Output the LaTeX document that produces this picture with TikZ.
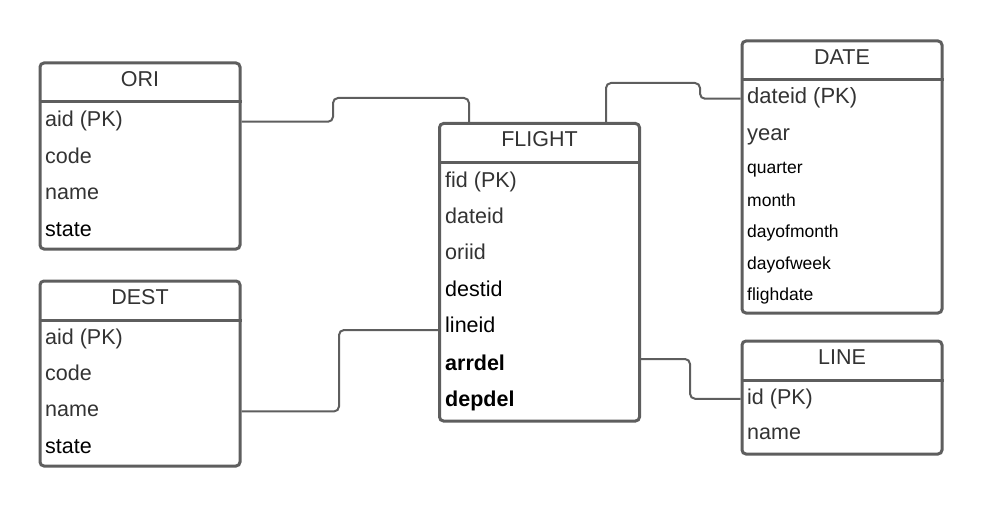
\documentclass[tikz,border=0pt]{standalone}
\usepackage{fontspec}
\setmainfont{Liberation Sans}
\definecolor{bord}{HTML}{5E5E5E}
\definecolor{txt}{HTML}{333333}
\begin{document}
\begin{tikzpicture}[x=1pt,y=-1pt,
 tbl/.style={draw=bord, line width=3pt, rounded corners=4pt, fill=white, inner sep=0pt, minimum width=200pt},
 hdr/.style={anchor=base, inner sep=0pt, text=txt, font=\fontsize{21.5}{24}\selectfont},
 row/.style={anchor=base west, inner sep=0pt, text height=15pt, text depth=4.5pt, font=\fontsize{21.5}{24}\selectfont, text=txt},
 blk/.style={text=black},
 sm/.style={font=\fontsize{17.5}{20}\selectfont, text height=12.5pt, text depth=4pt},
 sep/.style={draw=bord, line width=3pt},
 conn/.style={draw=bord, line width=2pt, rounded corners=5pt}]
\useasboundingbox (0,0) rectangle (982,508);

% ORI
\node[tbl, minimum height=186pt] (ori) at (140,156) {};
\draw[sep] (ori.west |- 0,102) -- (ori.east |- 0,102);
\node[hdr] (orih) at (140,86.7) {ORI};
\node[row] (o1) at (45,127) {aid (PK)};
\node[row] (o2) at (45,163) {code};
\node[row] (o3) at (45,199.5) {name};
\node[row,blk] (o4) at (45,236) {state};

% DEST
\node[tbl, minimum height=185pt] (dest) at (140,373.5) {};
\draw[sep] (dest.west |- 0,320) -- (dest.east |- 0,320);
\node[hdr] (desth) at (140,304.3) {DEST};
\node[row] (e1) at (45,344) {aid (PK)};
\node[row] (e2) at (45,380) {code};
\node[row] (e3) at (45,416.7) {name};
\node[row,blk] (e4) at (45,453) {state};

% FLIGHT
\node[tbl, minimum height=297.5pt] (fl) at (539.5,272.25) {};
\draw[sep] (fl.west |- 0,162) -- (fl.east |- 0,162);
\node[hdr] (flh) at (539.5,146.7) {FLIGHT};
\node[row] (f1) at (445,187.3) {fid (PK)};
\node[row] (f2) at (445,223.3) {dateid};
\node[row] (f3) at (445,259.3) {oriid};
\node[row,blk] (f4) at (445,296) {destid};
\node[row,blk] (f5) at (445,332.7) {lineid};
\node[row,blk] (f6) at (445,370) {\bfseries arrdel};
\node[row,blk] (f7) at (445,406.7) {\bfseries depdel};

% DATE
\node[tbl, minimum height=272pt] (date) at (842,177) {};
\draw[sep] (date.west |- 0,80) -- (date.east |- 0,80);
\node[hdr] (dateh) at (842,64.3) {DATE};
\node[row,font=\fontsize{22}{24}\selectfont] (d1) at (747,104) {dateid (PK)};
\node[row,font=\fontsize{22}{24}\selectfont] (d2) at (747,140) {year};
\node[row,blk,sm] (d3) at (747,173.3) {quarter};
\node[row,blk,sm] (d4) at (747,206) {month};
\node[row,blk,sm] (d5) at (747,237.3) {dayofmonth};
\node[row,blk,sm] (d6) at (747,269.3) {dayofweek};
\node[row,blk,sm] (d7) at (747,300.7) {flighdate};

% LINE
\node[tbl, minimum height=113pt] (line) at (842,397.5) {};
\draw[sep] (line.west |- 0,380) -- (line.east |- 0,380);
\node[hdr] (lineh) at (842,364.3) {LINE};
\node[row] (l1) at (747,404) {id (PK)};
\node[row] (l2) at (747,439.3) {name};

% connectors
\draw[conn] (ori.east |- o1) -| (333,98) -| (fl.north -| 469,0);
\draw[conn] (fl.north -| 606,0) |- (700,83) |- (date.west |- d1);
\draw[conn] (dest.east |- e3) -| (339,330) -- (fl.west |- 0,330);
\draw[conn] (fl.east |- 0,359) -| (690,0 |- l1) -- (line.west |- l1);
\end{tikzpicture}
\end{document}
